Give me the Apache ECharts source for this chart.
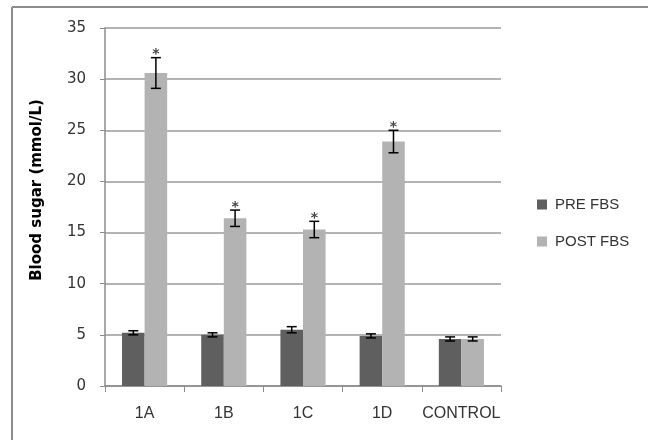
<!DOCTYPE html>
<html>
<head>
<meta charset="utf-8">
<script src="https://cdn.jsdelivr.net/npm/echarts@6/dist/echarts.min.js"></script>
<style>
  html, body { margin: 0; padding: 0; background: #fff; }
  #chart { width: 648px; height: 440px; }
</style>
</head>
<body>
<div id="chart"></div>
<script>
// 数据
var categories = ['1A', '1B', '1C', '1D', 'CONTROL'];
var preFbs = [5.2, 5.0, 5.5, 4.9, 4.6];
var postFbs = [30.6, 16.4, 15.3, 23.9, 4.6];
var preErr = [0.2, 0.2, 0.3, 0.2, 0.2];
var postErr = [1.5, 0.8, 0.8, 1.1, 0.2];
var postStar = [1, 1, 1, 1, 0]; // 显著性标记
var yTicks = [0, 5, 10, 15, 20, 25, 30, 35];

var catGap = 0.43; // 与 barCategoryGap 一致

var chart = echarts.init(document.getElementById('chart'));

// 误差线 + 星号
function errorItem(values, errs, side, stars) {
  return function (params, api) {
    var i = api.value(0);
    var band = api.size([1, 0])[0];
    var barW = band * (1 - catGap) / 2;
    var c = api.coord([i, values[i]]);
    var x = c[0] + side * barW / 2;
    var top = api.coord([i, values[i] + errs[i]])[1];
    var bot = api.coord([i, values[i] - errs[i]])[1];
    var st = { stroke: '#000', lineWidth: 1.5 };
    var kids = [
      { type: 'line', shape: { x1: x, y1: top, x2: x, y2: bot }, style: st },
      { type: 'line', shape: { x1: x - 5, y1: top, x2: x + 5, y2: top }, style: st },
      { type: 'line', shape: { x1: x - 5, y1: bot, x2: x + 5, y2: bot }, style: st }
    ];
    if (stars && stars[i]) {
      kids.push({
        type: 'text',
        style: {
          x: x, y: top - 3, text: '*', fill: '#444',
          font: 'bold 14px "DejaVu Sans"', textAlign: 'center', textVerticalAlign: 'middle'
        }
      });
    }
    return { type: 'group', children: kids };
  };
}

var option = {
  backgroundColor: '#ffffff',
  animation: false,
  color: ['#5f5f5f', '#b3b3b3'],
  graphic: [
    { type: 'line', shape: { x1: 12, y1: 7, x2: 12, y2: 440 }, style: { stroke: '#8c8c8c', lineWidth: 2 }, silent: true },
    { type: 'line', shape: { x1: 12, y1: 7, x2: 648, y2: 7 }, style: { stroke: '#8c8c8c', lineWidth: 2 }, silent: true }
  ],
  grid: { left: 105, right: 147, top: 28, bottom: 54 },
  legend: {
    orient: 'vertical',
    left: 532,
    top: 192,
    itemWidth: 10,
    itemHeight: 10,
    itemGap: 22,
    icon: 'rect',
    data: ['PRE FBS', 'POST FBS'],
    textStyle: { fontFamily: 'Liberation Sans', fontSize: 15, color: '#333', padding: [0, 0, 0, 3] }
  },
  xAxis: {
    type: 'category',
    data: categories,
    axisLine: { lineStyle: { color: '#8c8c8c', width: 1.5 } },
    axisTick: { show: true, length: 6, lineStyle: { color: '#8c8c8c' } },
    axisLabel: { interval: 0, fontFamily: 'Liberation Sans', fontSize: 16, color: '#333', margin: 20 }
  },
  yAxis: {
    type: 'value',
    min: 0,
    max: 35,
    interval: 5,
    name: 'Blood sugar (mmol/L)',
    nameLocation: 'middle',
    nameGap: 60,
    nameTextStyle: { fontFamily: 'DejaVu Sans', fontWeight: 'bold', fontSize: 15, color: '#000', padding: [0, 0, 0, 34] },
    axisLine: { show: true, lineStyle: { color: '#8c8c8c', width: 1.5 } },
    axisTick: { show: true, length: 5, lineStyle: { color: '#8c8c8c' } },
    splitLine: { lineStyle: { color: '#9a9a9a', width: 1.5 } },
    axisLabel: {
      fontFamily: 'DejaVu Sans', fontSize: 15, color: '#333', margin: 19,
      formatter: function (v) { return yTicks.indexOf(v) >= 0 ? String(v) : ''; }
    }
  },
  series: [
    { name: 'PRE FBS', type: 'bar', data: preFbs, barGap: '0%', barCategoryGap: '43%' },
    { name: 'POST FBS', type: 'bar', data: postFbs, barGap: '0%', barCategoryGap: '43%' },
    {
      type: 'custom', silent: true, z: 10,
      renderItem: errorItem(preFbs, preErr, -1, null),
      data: categories.map(function (c, i) { return [i]; })
    },
    {
      type: 'custom', silent: true, z: 10,
      renderItem: errorItem(postFbs, postErr, 1, postStar),
      data: categories.map(function (c, i) { return [i]; })
    }
  ]
};

chart.setOption(option);
</script>
</body>
</html>
